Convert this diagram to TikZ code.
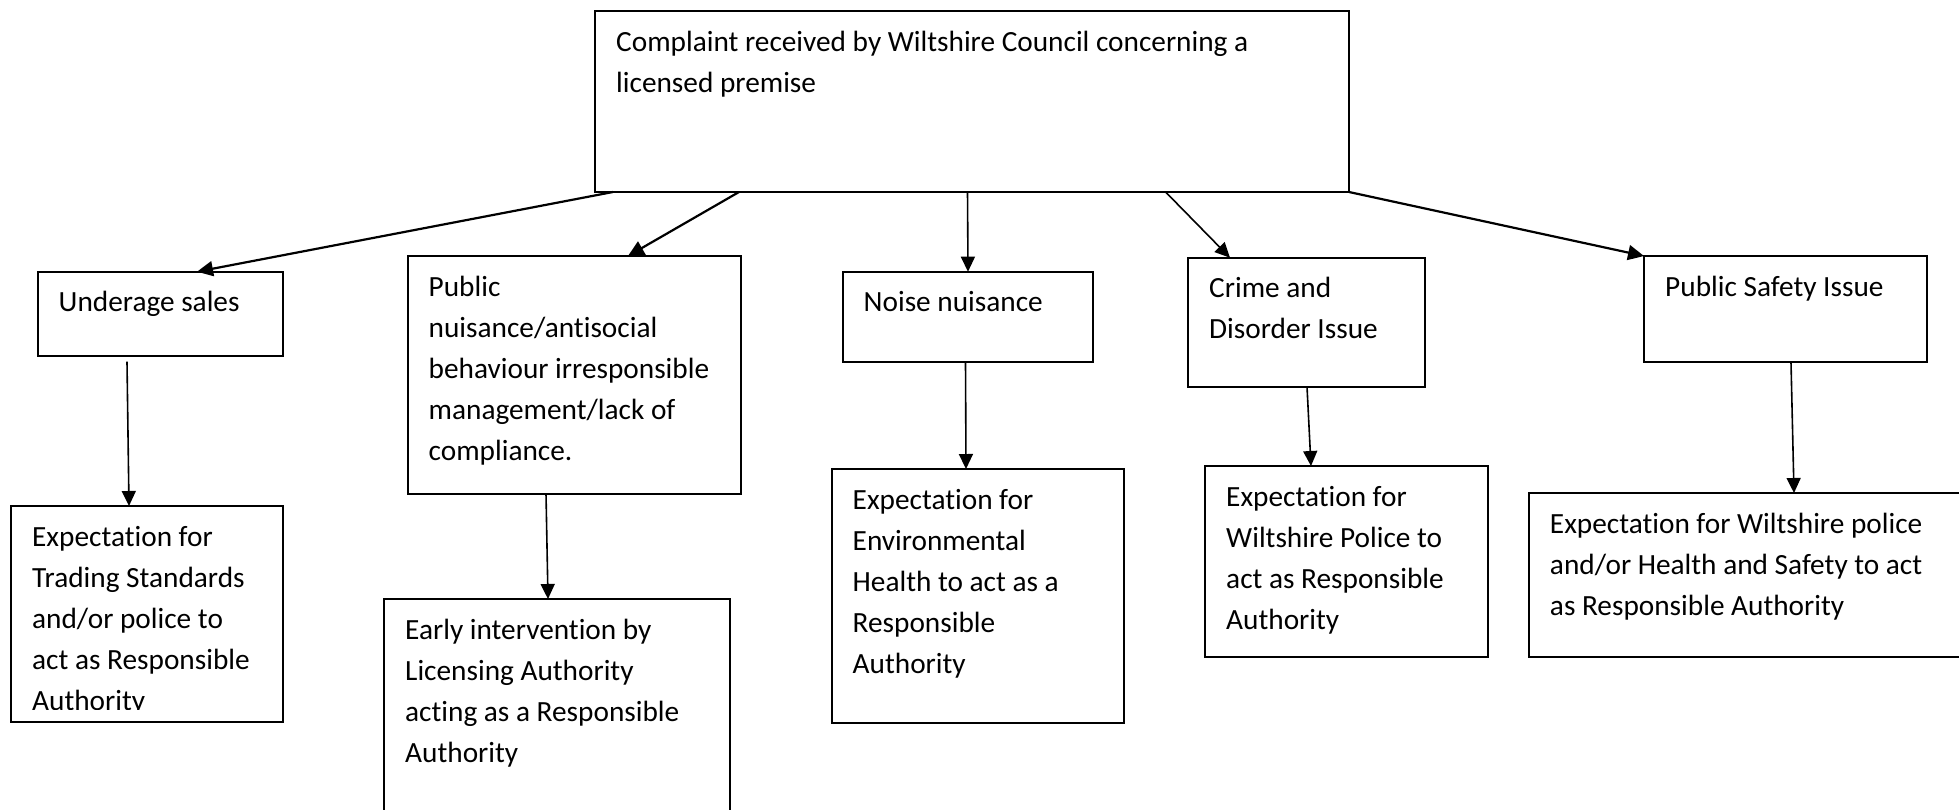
\documentclass[tikz,border=0pt]{standalone}
\usepackage{fontspec}
\setmainfont{Carlito}[Ligatures={NoCommon}]
\usetikzlibrary{arrows.meta,calc}
\begin{document}
\begin{tikzpicture}[x=1pt,y=-1pt,
  box/.style={draw=black,line width=2pt,rectangle,inner sep=0pt,outer sep=0pt,anchor=north west},
  txt/.style={inner sep=0pt,anchor=base west,align=flush left,text width=900pt,
    font=\fontsize{29.3pt}{41.2pt}\selectfont},
  arr/.style={line width=1.6pt,-{Triangle[length=15pt,width=14pt]}},
  darr/.style={line width=2.2pt,-{Triangle[length=16pt,width=15pt]}}]
\clip (0,0) rectangle (1959,809);
\fill[white] (0,0) rectangle (1959,809);
% boxes
\node[box,minimum width=754pt,minimum height=181pt] (top) at (595,11) {};
\node[box,minimum width=245pt,minimum height=84.3pt] (under) at (37.5,271.7) {};
\node[box,minimum width=333pt,minimum height=237.5pt] (pub) at (407.5,256) {};
\node[box,minimum width=250pt,minimum height=90.3pt] (noise) at (842.5,271.7) {};
\node[box,minimum width=237pt,minimum height=129pt] (crime) at (1188,257.7) {};
\node[box,minimum width=283pt,minimum height=106pt] (safety) at (1644,256) {};
\node[box,minimum width=271.5pt,minimum height=216pt] (trade) at (11,506) {};
\node[box,minimum width=346pt,minimum height=240pt] (early) at (384,599) {};
\node[box,minimum width=292.5pt,minimum height=253.5pt] (env) at (831.5,469) {};
\node[box,minimum width=282.5pt,minimum height=191pt] (police) at (1205,466) {};
\node[box,minimum width=450pt,minimum height=164pt] (hs) at (1528.75,493) {};
% texts
\node[txt] (ttop) at ($(top.north west)+(21,40)$) {Complaint received by Wiltshire Council concerning a\\licensed premise};
\node[txt] (tunder) at ($(under.north west)+(21,40)$) {Underage sales};
\node[txt] (tpub) at ($(pub.north west)+(21,40)$) {Public\\nuisance/antisocial\\behaviour irresponsible\\management/lack of\\compliance.};
\node[txt] (tnoise) at ($(noise.north west)+(21,40)$) {Noise nuisance};
\node[txt] (tcrime) at ($(crime.north west)+(21,40)$) {Crime and\\Disorder Issue};
\node[txt] (tsafety) at ($(safety.north west)+(21,40)$) {Public Safety Issue};
\begin{scope}
\clip (trade.north west) rectangle ($(trade.south east)+(0,-13)$);
\node[txt] (ttrade) at ($(trade.north west)+(21,40)$) {Expectation for\\Trading Standards\\and/or police to\\act as Responsible\\Authority};
\end{scope}
\node[txt] (tearly) at ($(early.north west)+(21,40)$) {Early intervention by\\Licensing Authority\\acting as a Responsible\\Authority};
\node[txt] (tenv) at ($(env.north west)+(21,40)$) {Expectation for\\Environmental\\Health to act as a\\Responsible\\Authority};
\node[txt] (tpolice) at ($(police.north west)+(21,40)$) {Expectation for\\Wiltshire Police to\\act as Responsible\\Authority};
\node[txt] (ths) at ($(hs.north west)+(21,40)$) {Expectation for Wiltshire police\\and/or Health and Safety to act\\as Responsible Authority};
% connectors
\draw[darr] ($(top.south west)+(18,0)$) -- ($(under.north west)+(159.5,0)$);
\draw[darr] ($(top.south west)+(144,0)$) -- ($(pub.north west)+(220.5,0)$);
\draw[arr] ($(top.south west)+(372.5,0)$) -- ($(noise.north west)+(125.5,0)$);
\draw[arr] ($(top.south west)+(570.6,0)$) -- ($(crime.north west)+(42,0)$);
\draw[darr] (top.south east) -- (safety.north west);
\draw[arr] ($(under.south west)+(89.5,5.7)$) -- ($(trade.north west)+(118,0)$);
\draw[arr] ($(pub.south west)+(138.5,0)$) -- ($(early.north west)+(164,0)$);
\draw[arr] ($(noise.south west)+(123,0.7)$) -- ($(env.north west)+(134.5,0)$);
\draw[arr] ($(crime.south west)+(119,0)$) -- ($(police.north west)+(106,0)$);
\draw[arr] ($(safety.south west)+(147,0.7)$) -- ($(hs.north west)+(265.25,0)$);
\end{tikzpicture}
\end{document}
